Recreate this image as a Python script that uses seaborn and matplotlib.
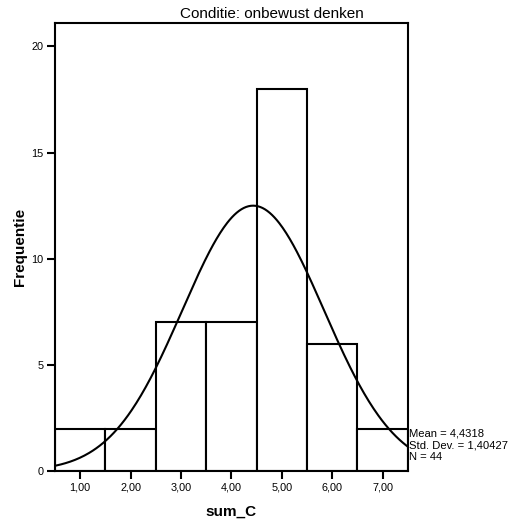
import numpy as np
import pandas as pd
import seaborn as sns
import matplotlib.pyplot as plt

# data
waarden = [1, 2, 3, 4, 5, 6, 7]
frequenties = [2, 2, 7, 7, 18, 6, 2]
gemiddelde = 4.4318
std_dev = 1.40427
n = 44
y_ticks = [0, 5, 10, 15, 20]

sns.set_theme(style="white")
plt.rcParams["font.family"] = ["Liberation Sans", "DejaVu Sans"]
plt.rcParams["text.color"] = "black"
plt.rcParams["axes.labelcolor"] = "black"

df = pd.DataFrame({"sum_C": waarden, "freq": frequenties})

fig = plt.figure(figsize=(5.13, 5.24), dpi=100)
ax = fig.add_axes([0.107, 0.101, 0.688, 0.855])

# bars: discrete bins of width 1 centered on each value
sns.histplot(data=df, x="sum_C", weights="freq", discrete=True,
             color="white", edgecolor="black", linewidth=1.5, alpha=1, ax=ax)

# fitted normal curve (from the mean / std. dev. / N shown)
xs = np.linspace(0.5, 7.5, 300)
ys = n * 1.0 / (std_dev * np.sqrt(2 * np.pi)) * np.exp(-0.5 * ((xs - gemiddelde) / std_dev) ** 2)
sns.lineplot(x=xs, y=ys, color="black", linewidth=1.5, ax=ax)

ax.set_xlim(0.5, 7.5)
ax.set_ylim(0, 21.1)
ax.set_xticks(waarden)
ax.set_xticklabels([f"{v:.2f}".replace(".", ",") for v in waarden], fontsize=7.8)
ax.set_yticks(y_ticks)
ax.set_yticklabels([str(v) for v in y_ticks], fontsize=7.8)
ax.tick_params(axis="both", direction="out", length=6, width=1.5, color="black",
               bottom=True, left=True, pad=2, labelcolor="black")

for side in ["left", "bottom", "top", "right"]:
    ax.spines[side].set_color("black")
    ax.spines[side].set_linewidth(1.5)

ax.set_xlabel("sum_C", fontsize=11, fontweight="bold", labelpad=9, color="black")
ax.set_ylabel("Frequentie", fontsize=11, fontweight="bold", labelpad=3, color="black")

fig.text(272 / 513, 1 - 14 / 524, "Conditie: onbewust denken", ha="center", va="center",
         fontsize=11, color="black")

stats = "Mean = " + f"{gemiddelde:.4f}".replace(".", ",") + "\n" + \
        "Std. Dev. = " + f"{std_dev:.5f}".replace(".", ",") + "\n" + f"N = {n}"
ax.text(1.003, 0.058, stats, transform=ax.transAxes, ha="left", va="center",
        fontsize=8.1, linespacing=1.22, color="black", clip_on=False)

fig.savefig("out.png", dpi=100)
